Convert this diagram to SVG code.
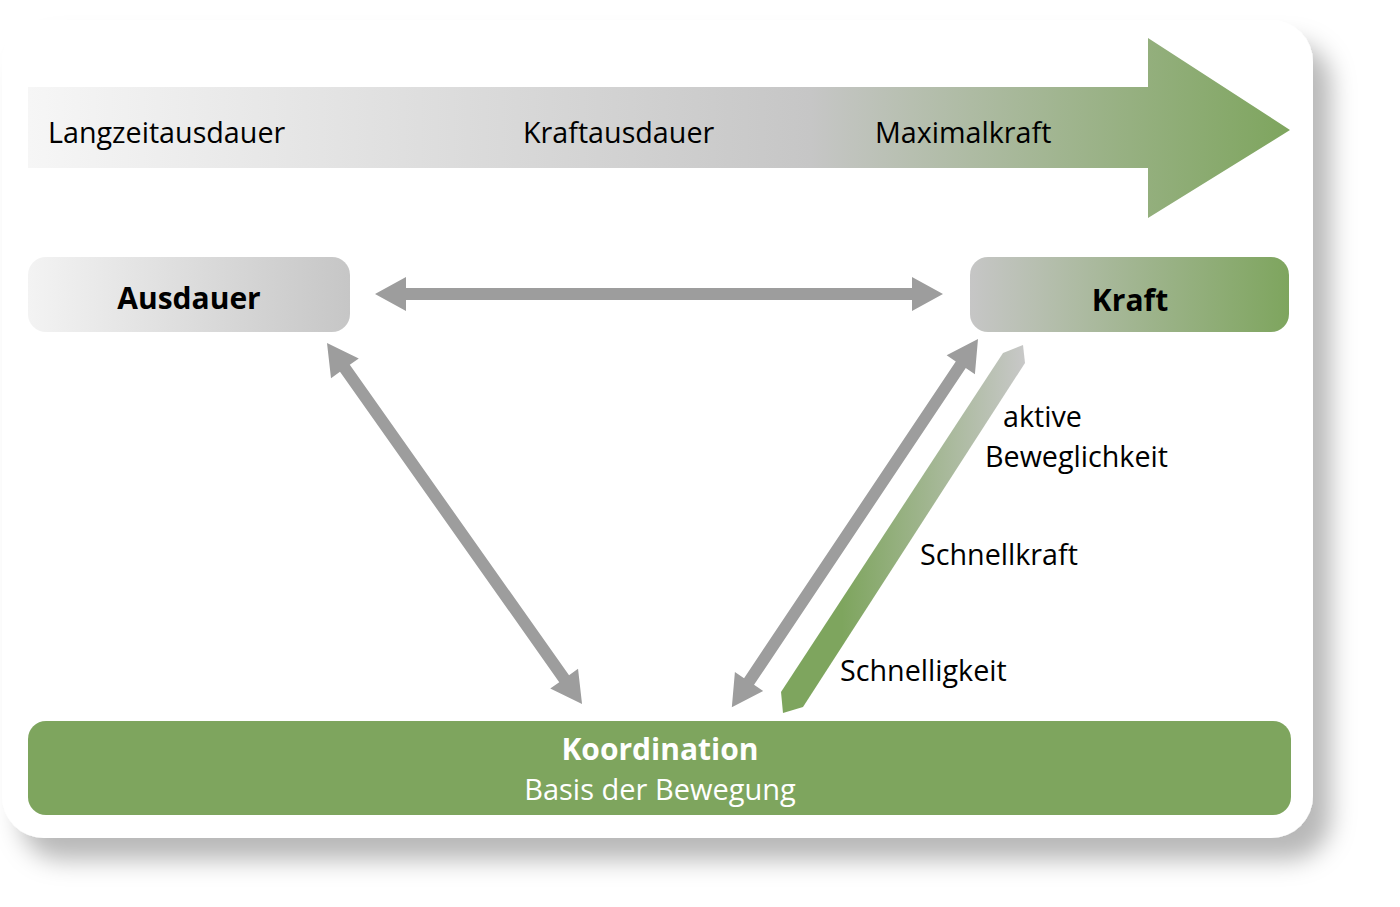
<svg xmlns="http://www.w3.org/2000/svg" width="1400" height="907" viewBox="0 0 1400 907">
<defs>
<filter id="shadow" x="-5%" y="-5%" width="115%" height="120%">
<feDropShadow dx="18" dy="22" stdDeviation="12" flood-color="#000" flood-opacity="0.28"/>
</filter>
<linearGradient id="gTop" gradientUnits="userSpaceOnUse" x1="28" y1="0" x2="1290" y2="0">
<stop offset="0" stop-color="#f6f6f6"/>
<stop offset="0.62" stop-color="#c6c6c6"/>
<stop offset="1" stop-color="#7ea55e"/>
</linearGradient>
<linearGradient id="gAus" x1="0" y1="0" x2="1" y2="0">
<stop offset="0" stop-color="#f3f3f3"/>
<stop offset="1" stop-color="#c6c6c6"/>
</linearGradient>
<linearGradient id="gKraft" x1="0" y1="0" x2="1" y2="0">
<stop offset="0" stop-color="#c6c6c6"/>
<stop offset="1" stop-color="#7ea55e"/>
</linearGradient>
<linearGradient id="gBar" gradientUnits="userSpaceOnUse" x1="781" y1="0" x2="1025" y2="0">
<stop offset="0.25" stop-color="#7ea55e"/>
<stop offset="1" stop-color="#c8c8c8"/>
</linearGradient>
</defs>
<style>
text{font-family:"Open Sans","Noto Sans","DejaVu Sans",sans-serif;}
.lbl{font-size:28.7px;fill:#000;}
.bold{font-size:30px;font-weight:bold;fill:#000;}
.arrow{fill:#9d9d9d;}
</style>
<rect x="0" y="0" width="1400" height="907" fill="#fff"/>
<rect id="panel" x="2" y="20" width="1311" height="818" rx="42" ry="42" fill="#fff" filter="url(#shadow)"/>

<g id="scale">
<path d="M28,87 L1148,87 L1148,38 L1290,130 L1148,218 L1148,168 L28,168 Z" fill="url(#gTop)"/>
<text class="lbl" x="48" y="143">Langzeitausdauer</text>
<text class="lbl" x="523" y="143">Kraftausdauer</text>
<text class="lbl" x="875" y="143">Maximalkraft</text>
</g>

<g id="ausdauer">
<rect x="28" y="257" width="322" height="75" rx="18" fill="url(#gAus)"/>
<text class="bold" x="189" y="309" text-anchor="middle">Ausdauer</text>
</g>

<g id="kraft">
<rect x="970" y="257" width="319" height="75" rx="18" fill="url(#gKraft)"/>
<text class="bold" x="1130" y="311" text-anchor="middle">Kraft</text>
</g>

<g id="koordination">
<rect x="28" y="721" width="1263" height="94" rx="18" fill="#7ea55e"/>
<text x="660" y="760" text-anchor="middle" style="font-size:30px;font-weight:bold;fill:#fff">Koordination</text>
<text x="660" y="800" text-anchor="middle" style="font-size:29px;fill:#fff">Basis der Bewegung</text>
</g>

<g id="connectors">
<path class="arrow" transform="translate(375,294)" d="M0,0 L31,-17 L31,-6 L537,-6 L537,-17 L568,0 L537,17 L537,6 L31,6 L31,17 Z"/>
<path class="arrow" transform="translate(327,343) rotate(54.76)" d="M0,0 L31,-17 L31,-6 L411,-6 L411,-17 L442,0 L411,17 L411,6 L31,6 L31,17 Z"/>
<path class="arrow" transform="translate(978,339) rotate(123.76)" d="M0,0 L31,-17 L31,-6 L412,-6 L412,-17 L443,0 L412,17 L412,6 L31,6 L31,17 Z"/>
<polygon id="bar" points="781,692 1003,353 1023,345 1025,363 803,707 783,713" fill="url(#gBar)"/>
</g>

<g id="labels">
<text class="lbl" x="1003" y="427">aktive</text>
<text class="lbl" x="985" y="467">Beweglichkeit</text>
<text class="lbl" x="920" y="565">Schnellkraft</text>
<text class="lbl" x="840" y="681">Schnelligkeit</text>
</g>
</svg>
